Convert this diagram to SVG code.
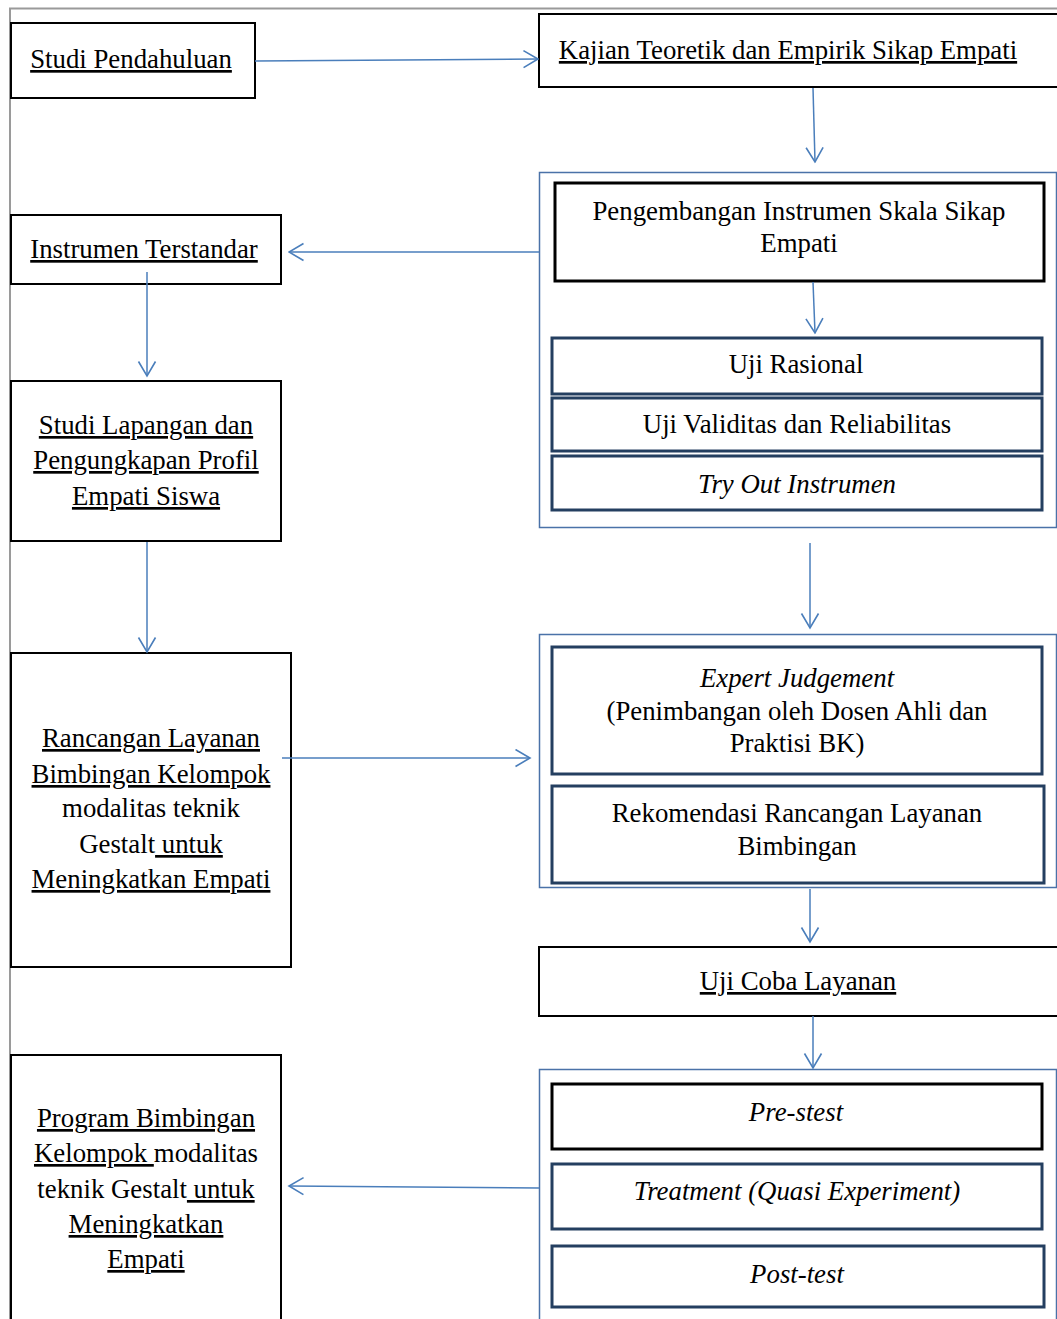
<svg xmlns="http://www.w3.org/2000/svg" width="1057" height="1319" viewBox="0 0 1057 1319">
<style>
.t{font-family:"Liberation Serif","Times New Roman",serif;font-size:26.8px;fill:#000;text-anchor:middle}
.i{font-style:italic}
.u{text-decoration:underline}
.bk{fill:#fff;stroke:#000;stroke-width:2}
.bk3{fill:#fff;stroke:#000;stroke-width:3}
.nv{fill:#fff;stroke:#243f60;stroke-width:3}
.ct{fill:#fff;stroke:#4a72a8;stroke-width:1.5}
.c{fill:none;stroke:#4a7ebb;stroke-width:1.5;marker-end:url(#arr)}
</style>
<defs>
<marker id="arr" viewBox="0 0 17 20" markerWidth="17" markerHeight="20" refX="15.5" refY="9.5" orient="auto" markerUnits="userSpaceOnUse">
<path d="M1,1 L15.5,9.5 L1,18" fill="none" stroke="#4a7ebb" stroke-width="1.6"/>
</marker>
</defs>
<rect width="1057" height="1319" fill="#fff"/>
<path d="M10,1319 V8.5 H1057" fill="none" stroke="#9a9a9a" stroke-width="2"/>

<g id="studi-pendahuluan"><rect class="bk" x="11" y="23" width="244" height="75"/><text class="t" x="131" y="68"><tspan class="u">Studi Pendahuluan</tspan></text></g>
<g id="kajian"><rect class="bk" x="539" y="14" width="520" height="73"/><text class="t" x="788" y="59"><tspan class="u">Kajian Teoretik dan Empirik Sikap Empati</tspan></text></g>

<g id="container-instrumen"><rect class="ct" x="539.5" y="172.5" width="517" height="355"/></g>
<g id="pengembangan"><rect class="bk3" x="555" y="183" width="489" height="98"/><text class="t" x="799" y="220">Pengembangan Instrumen Skala Sikap</text><text class="t" x="799" y="252">Empati</text></g>
<g id="uji-rasional"><rect class="nv" x="552" y="338" width="490" height="56"/><text class="t" x="796" y="373">Uji Rasional</text></g>
<g id="uji-validitas"><rect class="nv" x="552" y="398" width="490" height="53"/><text class="t" x="797" y="433">Uji Validitas dan Reliabilitas</text></g>
<g id="try-out"><rect class="nv" x="552" y="456" width="490" height="54"/><text class="t i" x="797" y="493">Try Out Instrumen</text></g>

<g id="instrumen-terstandar"><rect class="bk" x="11" y="215" width="270" height="69"/><text class="t" x="144" y="258"><tspan class="u">Instrumen Terstandar</tspan></text></g>
<g id="studi-lapangan"><rect class="bk" x="11" y="381" width="270" height="160"/><text class="t" x="146" y="434"><tspan class="u">Studi Lapangan dan</tspan></text><text class="t" x="146" y="469"><tspan class="u">Pengungkapan Profil</tspan></text><text class="t" x="146" y="505"><tspan class="u">Empati Siswa</tspan></text></g>

<g id="container-expert"><rect class="ct" x="539.5" y="634.5" width="517" height="253"/></g>
<g id="expert"><rect class="nv" x="552" y="647" width="490" height="127"/><text class="t" x="797" y="687"><tspan class="i">Expert Judgement</tspan></text><text class="t" x="797" y="720">(Penimbangan oleh Dosen Ahli dan</text><text class="t" x="797" y="752">Praktisi BK)</text></g>
<g id="rekomendasi"><rect class="nv" x="552" y="786" width="492" height="97"/><text class="t" x="797" y="822">Rekomendasi Rancangan Layanan</text><text class="t" x="797" y="855">Bimbingan</text></g>

<g id="rancangan"><rect class="bk" x="11" y="653" width="280" height="314"/><text class="t" x="151" y="747"><tspan class="u">Rancangan Layanan</tspan></text><text class="t" x="151" y="783"><tspan class="u">Bimbingan Kelompok</tspan></text><text class="t" x="151" y="817">modalitas teknik</text><text class="t" x="151" y="853" xml:space="preserve">Gestalt<tspan class="u"> untuk</tspan></text><text class="t" x="151" y="888"><tspan class="u">Meningkatkan Empati</tspan></text></g>

<g id="uji-coba"><rect class="bk" x="539" y="947" width="520" height="69"/><text class="t" x="798" y="990"><tspan class="u">Uji Coba Layanan</tspan></text></g>

<g id="container-treatment"><rect class="ct" x="539.5" y="1069.5" width="517" height="260"/></g>
<g id="pretest"><rect class="bk3" x="552" y="1084" width="490" height="65"/><text class="t i" x="796" y="1121">Pre-stest</text></g>
<g id="treatment"><rect class="nv" x="552" y="1164" width="490" height="65"/><text class="t i" x="797" y="1200">Treatment (Quasi Experiment)</text></g>
<g id="posttest"><rect class="nv" x="552" y="1246" width="492" height="61"/><text class="t i" x="797" y="1283">Post-test</text></g>

<g id="program"><rect class="bk" x="11" y="1055" width="270" height="280"/><text class="t" x="146" y="1127"><tspan class="u">Program Bimbingan</tspan></text><text class="t" x="146" y="1162" xml:space="preserve"><tspan class="u">Kelompok </tspan>modalitas</text><text class="t" x="146" y="1198" xml:space="preserve">teknik Gestalt<tspan class="u"> untuk</tspan></text><text class="t" x="146" y="1233"><tspan class="u">Meningkatkan</tspan></text><text class="t" x="146" y="1268"><tspan class="u">Empati</tspan></text></g>

<g id="connectors">
<path class="c" d="M255,61 L538,59"/>
<path class="c" d="M813,88 L815,162"/>
<path class="c" d="M813,282 L815,333"/>
<path class="c" d="M539,252 L289,252"/>
<path class="c" d="M147,272 L147,376"/>
<path class="c" d="M147,542 L147,652"/>
<path class="c" d="M810,543 L810,628"/>
<path class="c" d="M282,758 L530,758"/>
<path class="c" d="M810,889 L810,942"/>
<path class="c" d="M813,1016 L813,1068"/>
<path class="c" d="M539,1188 L289,1186"/>
</g>
</svg>
